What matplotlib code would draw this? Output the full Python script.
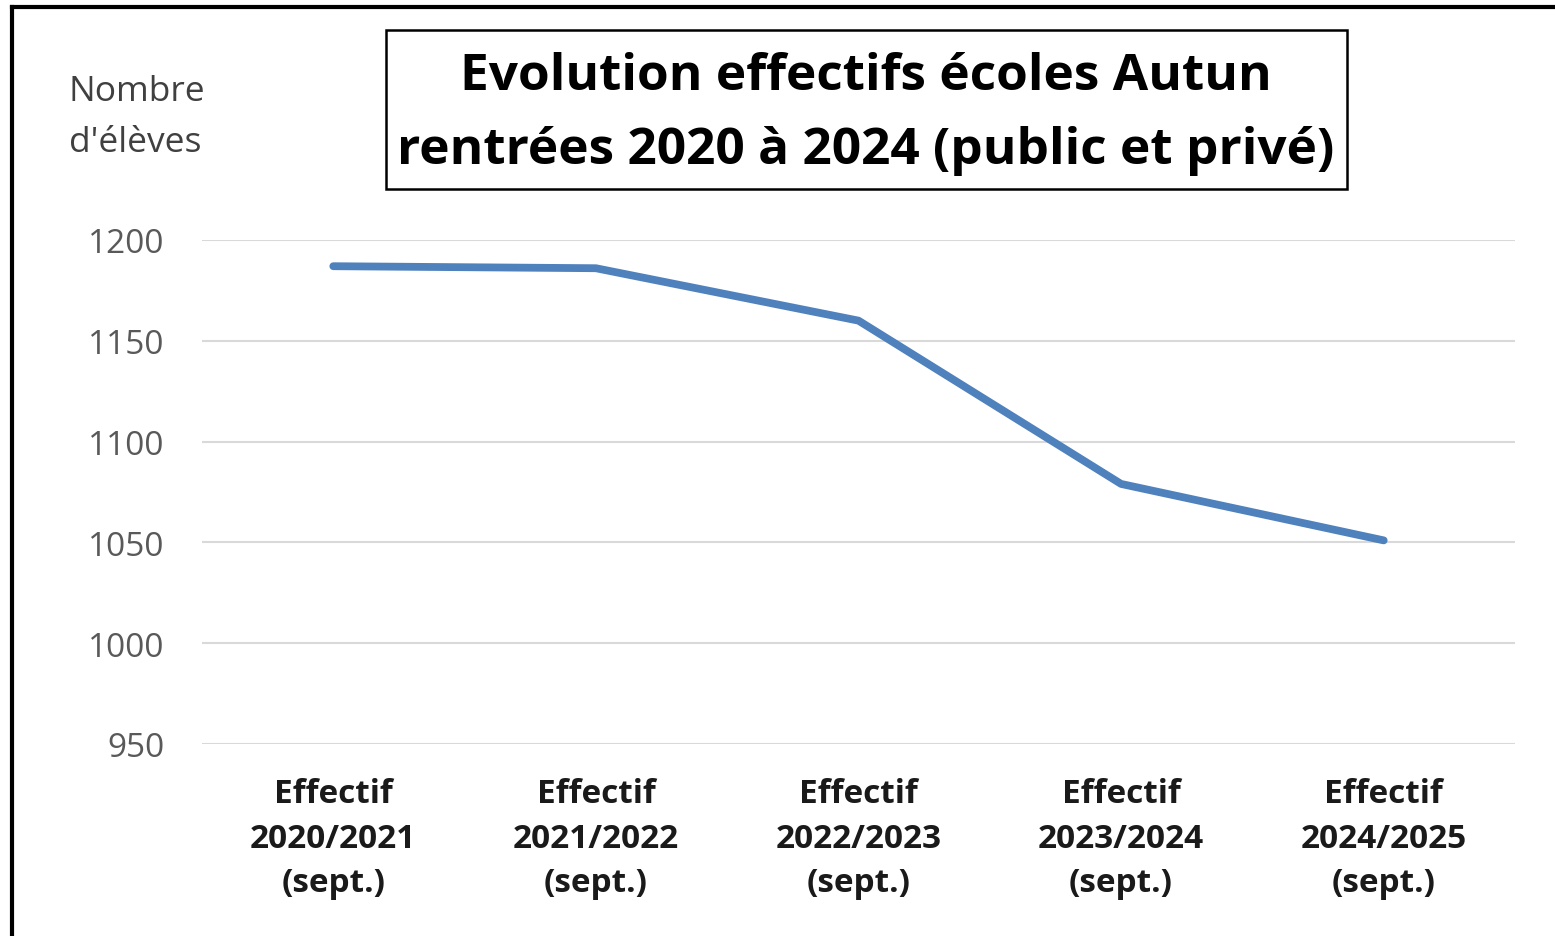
import matplotlib
matplotlib.use("Agg")
import matplotlib.pyplot as plt
from matplotlib.patches import Rectangle
from matplotlib.lines import Line2D

categories = ["Effectif\n2020/2021\n(sept.)", "Effectif\n2021/2022\n(sept.)",
              "Effectif\n2022/2023\n(sept.)", "Effectif\n2023/2024\n(sept.)",
              "Effectif\n2024/2025\n(sept.)"]
values = [1187, 1186, 1160, 1079, 1051]
yticks = [950, 1000, 1050, 1100, 1150, 1200]

W, H = 1555, 937
fig = plt.figure(figsize=(W / 100, H / 100), dpi=100)
fig.patch.set_facecolor("white")

def fx(px):
    return px / W

def fy(py):
    return 1 - py / H

ax = fig.add_axes([fx(202), fy(745), fx(1515) - fx(202), fy(241) - fy(745)])
ax.set_facecolor("white")
x = list(range(len(categories)))
ax.plot(x, values, color="#4F81BD", linewidth=5.6, solid_capstyle="round",
        solid_joinstyle="round", zorder=3)
ax.set_xlim(-0.5, 4.5)
ax.set_ylim(950, 1200)
ax.set_yticks(yticks)
ax.set_yticklabels([str(v) for v in yticks], fontsize=24, color="#595959",
                   family="Open Sans")
ax.set_xticks(x)
ax.set_xticklabels(categories, fontsize=24, fontweight="bold", color="#1a1a1a",
                   family="Open Sans", linespacing=1.45)
ax.tick_params(axis="y", length=0, pad=27)
ax.tick_params(axis="x", length=0, pad=24)
ax.grid(axis="y", color="#D9D9D9", linewidth=1.5)
ax.set_axisbelow(True)
for s in ax.spines.values():
    s.set_visible(False)

# Y-axis title
fig.text(fx(69), fy(92), "Nombre", fontsize=25.5, color="#404040",
         family="Open Sans", ha="left", va="center")
fig.text(fx(69), fy(143), "d'élèves", fontsize=25.5, color="#404040",
         family="Open Sans", ha="left", va="center")

# Title box
fig.patches.append(Rectangle((fx(386), fy(190)), fx(1347) - fx(386), fy(31) - fy(190),
                             transform=fig.transFigure, facecolor="white",
                             edgecolor="black", linewidth=1.8, zorder=5))
fig.text(fx(866), fy(77), "Evolution effectifs écoles Autun", fontsize=37,
         fontweight="bold", color="black", family="Open Sans",
         ha="center", va="center", zorder=6)
fig.text(fx(866), fy(151), "rentrées 2020 à 2024 (public et privé)", fontsize=37,
         fontweight="bold", color="black", family="Open Sans",
         ha="center", va="center", zorder=6)

# Outer frame (top and left edges of the screenshot)
fig.add_artist(Line2D([fx(12), fx(12)], [fy(8), 0], transform=fig.transFigure,
                      color="black", linewidth=3))
fig.add_artist(Line2D([fx(12), 1], [fy(8), fy(8)], transform=fig.transFigure,
                      color="black", linewidth=3))

fig.savefig("out.png", dpi=100, facecolor="white")
